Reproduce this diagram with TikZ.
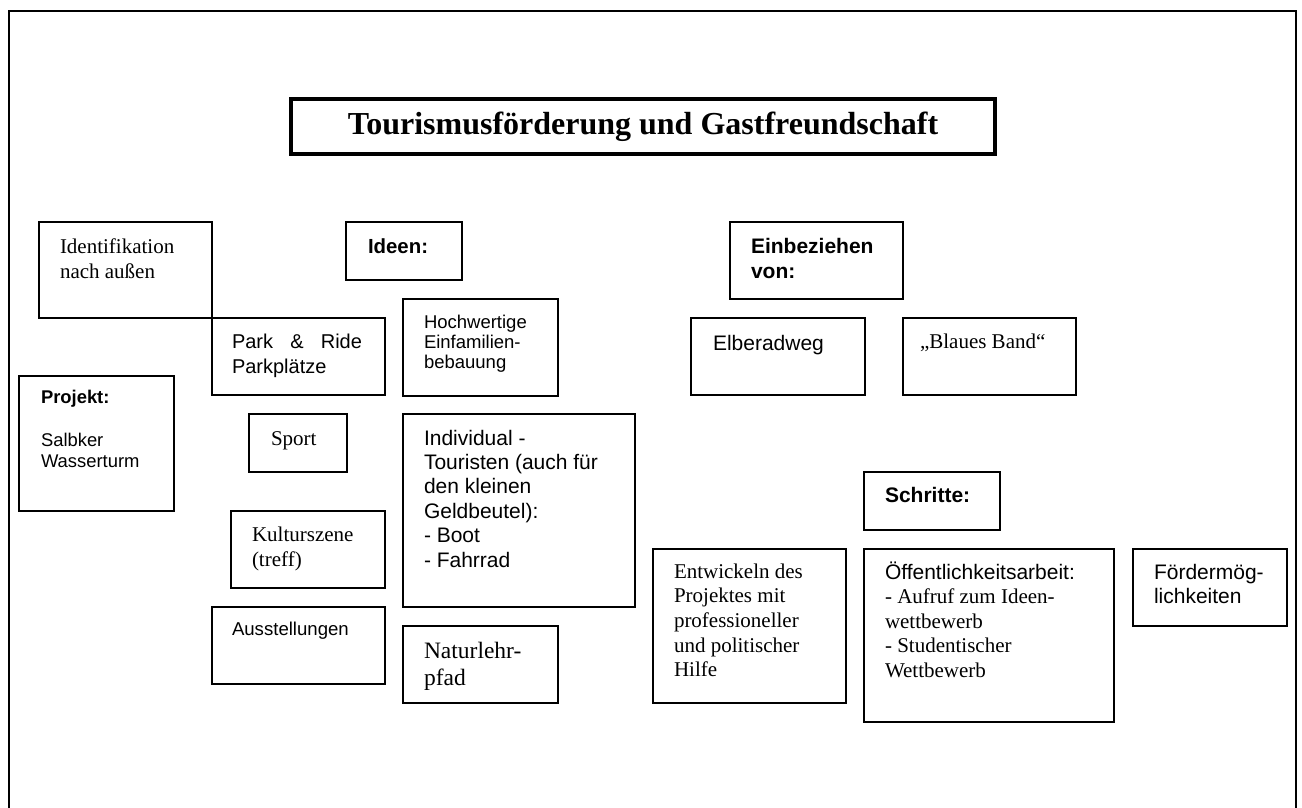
\documentclass[tikz,border=0pt]{standalone}
\usepackage{fontspec}
\setmainfont{Liberation Serif}[Ligatures=CommonOff]
\setsansfont{Liberation Sans}[Ligatures=CommonOff]
\newcommand{\lns}[1]{\begin{tabular}[t]{@{}l@{}}#1\end{tabular}}
\newcommand{\fs}[2]{\fontsize{#1}{#2}\selectfont}
\tikzset{
  frameline/.style={line width=2pt},
  box/.style={draw, line width=1.3pt, inner sep=0pt, outer sep=0pt, anchor=north west},
  titlebox/.style={draw, line width=4.5pt, inner sep=0pt, outer sep=0pt, anchor=north west},
  txt/.style={inner sep=0pt, outer sep=0pt, anchor=base west}
}
\begin{document}
\begin{tikzpicture}[x=1pt,y=-1pt]
\useasboundingbox (0,0) rectangle (1302,808);
% outer frame (open at the bottom)
\draw[frameline] (9,808) -- (9,11.5) -- (1295.5,11.5) -- (1295.5,808);
% title
\node[titlebox, minimum width=704pt, minimum height=55pt] (title) at (291,99) {};
\node[inner sep=0pt, anchor=base, font=\fs{32}{36}\rmfamily\bfseries] (titletext) at (643,134) {Tourismusförderung und Gastfreundschaft};
% boxes
\node[box, minimum width=173pt, minimum height=96pt] (ident) at (39,222) {};
\node[box, minimum width=116pt, minimum height=58pt] (ideen) at (346,222) {};
\node[box, minimum width=173pt, minimum height=77pt] (park) at (212,318) {};
\node[box, minimum width=155pt, minimum height=97pt] (hoch) at (403,299) {};
\node[box, minimum width=155pt, minimum height=135pt] (projekt) at (19,376) {};
\node[box, minimum width=98pt, minimum height=58pt] (sport) at (249,414) {};
\node[box, minimum width=232pt, minimum height=193pt] (indiv) at (403,414) {};
\node[box, minimum width=154pt, minimum height=77pt] (kultur) at (231,511) {};
\node[box, minimum width=173pt, minimum height=77pt] (ausst) at (212,607) {};
\node[box, minimum width=155pt, minimum height=77pt] (natur) at (403,626) {};
\node[box, minimum width=173pt, minimum height=77pt] (einb) at (730,222) {};
\node[box, minimum width=174pt, minimum height=77pt] (elbe) at (691,318) {};
\node[box, minimum width=173pt, minimum height=77pt] (blaues) at (903,318) {};
\node[box, minimum width=136pt, minimum height=58pt] (schritte) at (864,472) {};
\node[box, minimum width=193pt, minimum height=154pt] (entw) at (653,549) {};
\node[box, minimum width=250pt, minimum height=173pt] (oeff) at (864,549) {};
\node[box, minimum width=154pt, minimum height=77pt] (foerder) at (1133,549) {};
% texts
\node[txt, font=\fs{21}{25}\rmfamily] (identt) at (60,253) {\lns{Identifikation\\nach außen}};
\node[txt, font=\fs{20.4}{24}\sffamily\bfseries] (ideent) at (368,253) {Ideen:};
\node[txt, font=\fs{20}{25}\sffamily] (parkt) at (232,348) {\lns{\makebox[130pt][s]{Park\hfill\&\hfill Ride}\\Parkplätze}};
\node[txt, font=\fs{18.5}{20}\sffamily] (hocht) at (424,328) {\lns{Hochwertige\\Einfamilien-\\bebauung}};
\node[txt, font=\fs{18.4}{21.5}\sffamily] (projektt) at (41,403) {\lns{\textbf{Projekt:}\\ \\Salbker\\Wasserturm}};
\node[txt, font=\fs{21}{25}\rmfamily] (sportt) at (271,445) {Sport};
\node[txt, font=\fs{21}{24.4}\sffamily] (indivt) at (424,445) {\lns{Individual -\\Touristen (auch für\\den kleinen\\Geldbeutel):\\- Boot\\- Fahrrad}};
\node[txt, font=\fs{21}{25}\rmfamily] (kulturt) at (252,541) {\lns{Kulturszene\\(treff)}};
\node[txt, font=\fs{18.6}{22}\sffamily] (ausstt) at (232,635) {Ausstellungen};
\node[txt, font=\fs{23.5}{27}\rmfamily] (naturt) at (424,658) {\lns{Naturlehr-\\pfad}};
\node[txt, font=\fs{21}{25}\sffamily\bfseries] (einbt) at (751,253) {\lns{Einbeziehen\\von:}};
\node[txt, font=\fs{21}{25}\sffamily] (elbet) at (713,350) {Elberadweg};
\node[txt, font=\fs{21}{25}\rmfamily] (blauest) at (920,348) {„Blaues Band“};
\node[txt, font=\fs{21}{25}\sffamily\bfseries] (schrittet) at (885,502) {Schritte:};
\node[txt, font=\fs{21}{24.7}\rmfamily] (entwt) at (674,578) {\lns{Entwickeln des\\Projektes mit\\professioneller\\und politischer\\Hilfe}};
\node[txt, font=\fs{21}{24.5}\rmfamily] (oefft) at (885,579) {\lns{\sffamily Öffentlichkeitsarbeit:\\- Aufruf zum Ideen-\\wettbewerb\\- Studentischer\\Wettbewerb}};
\node[txt, font=\fs{21}{24}\sffamily] (foerdert) at (1154,579) {\lns{Fördermög-\\lichkeiten}};
\end{tikzpicture}
\end{document}
